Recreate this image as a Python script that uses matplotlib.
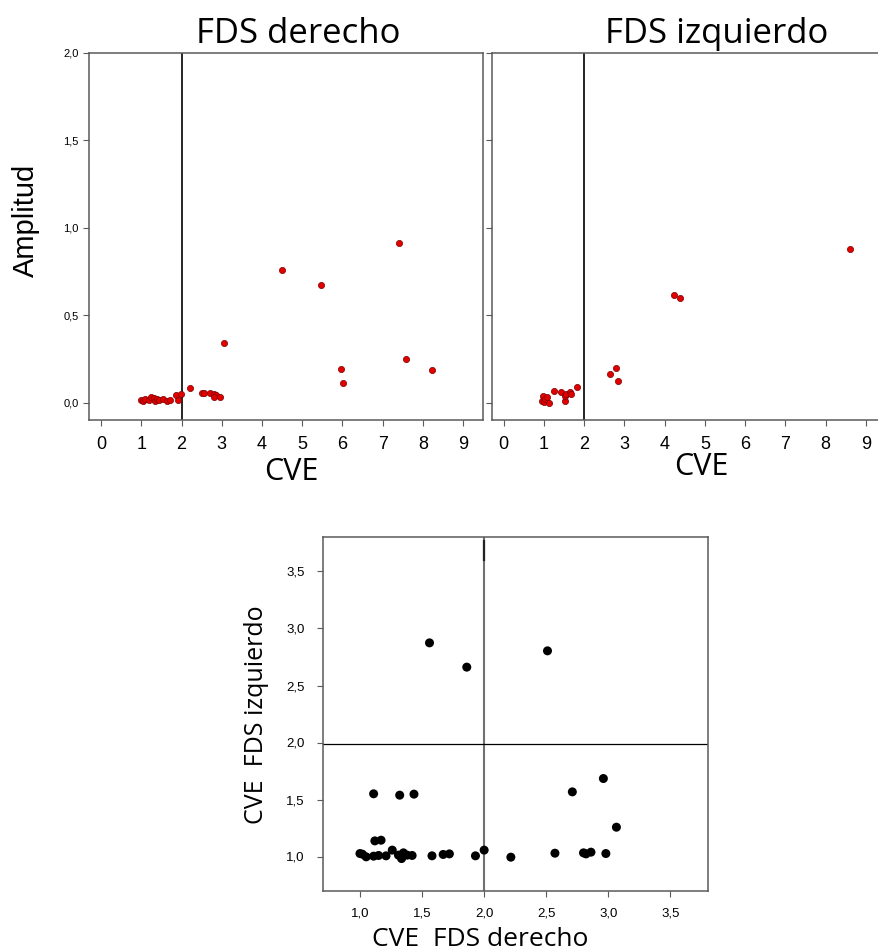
import matplotlib
matplotlib.use('Agg')
import matplotlib.pyplot as plt
import numpy as np

# CVE vs amplitud, FDS derecho
der_cve = [0.98, 1.03, 1.10, 1.18, 1.25, 1.31, 1.33, 1.39, 1.43, 1.55, 1.65, 1.72,
           1.85, 1.92, 1.99, 2.20, 2.50, 2.56, 2.70, 2.81, 2.86, 2.81, 2.96, 3.06,
           4.49, 5.47, 5.96, 6.02, 7.41, 7.59, 8.22]
der_amp = [0.013, 0.006, 0.021, 0.013, 0.030, 0.025, 0.011, 0.023, 0.013, 0.021, 0.010, 0.017,
           0.042, 0.013, 0.048, 0.082, 0.055, 0.057, 0.055, 0.048, 0.044, 0.030, 0.032, 0.341,
           0.761, 0.673, 0.193, 0.112, 0.915, 0.250, 0.185]

# CVE vs amplitud, FDS izquierdo
izq_cve = [0.96, 0.97, 0.99, 1.02, 1.08, 1.12, 1.24, 1.41, 1.51, 1.53, 1.55, 1.65,
           1.67, 1.81, 2.65, 2.78, 2.85, 4.23, 4.38, 8.60]
izq_amp = [0.006, 0.040, 0.002, 0.021, 0.031, 0.000, 0.067, 0.063, 0.010, 0.038, 0.051, 0.061,
           0.046, 0.088, 0.166, 0.200, 0.124, 0.618, 0.597, 0.877]

# CVE derecho vs CVE izquierdo
cve_der = [1.00, 1.02, 1.05, 1.11, 1.15, 1.21, 1.26, 1.31, 1.335, 1.35, 1.38, 1.42,
           1.58, 1.67, 1.72, 1.93, 2.00, 2.215, 2.57, 2.80, 2.82, 2.86, 2.98,
           1.12, 1.17, 1.11, 1.32, 1.435, 2.71, 2.96, 3.065, 1.56, 1.86, 2.51]
cve_izq = [1.026, 1.02, 0.997, 1.003, 1.009, 1.006, 1.056, 1.012, 0.982, 1.032, 1.012, 1.009,
           1.006, 1.018, 1.023, 1.006, 1.056, 0.994, 1.029, 1.032, 1.023, 1.038, 1.026,
           1.137, 1.143, 1.55, 1.538, 1.547, 1.567, 1.684, 1.257, 2.874, 2.661, 2.804]

amp_ticks = [0.0, 0.5, 1.0, 1.5, 2.0]
amp_labels = ['0,0', '0,5', '1,0', '1,5', '2,0']
cve_ticks = list(range(10))
sq_ticks = [1.0, 1.5, 2.0, 2.5, 3.0, 3.5]
sq_labels = ['1,0', '1,5', '2,0', '2,5', '3,0', '3,5']

frame = '#5a5a5a'
label_font = 'Open Sans'
tick_font = 'Liberation Sans'

fig = plt.figure(figsize=(8.79, 9.52), dpi=100)
W, H = 879, 952

def px_axes(x0, y0, x1, y1):
    return fig.add_axes([x0 / W, 1 - y1 / H, (x1 - x0) / W, (y1 - y0) / H])

def style(ax, lw=1.1):
    for s in ax.spines.values():
        s.set_color(frame)
        s.set_linewidth(lw)
    ax.tick_params(colors=frame, length=4, width=0.8)

ax1 = px_axes(89, 53, 483.3, 420)
ax2 = px_axes(491.7, 53, 886, 420)

for ax, xs, ys in [(ax1, der_cve, der_amp), (ax2, izq_cve, izq_amp)]:
    ax.scatter(xs, ys, s=20, c='#e00000', edgecolors='#7a0000', linewidths=0.5, zorder=3)
    ax.axvline(2, color='black', lw=1.2, zorder=2)
    ax.set_xlim(-0.3, 9.5)
    ax.set_ylim(-0.1, 2.0)
    ax.set_xticks(cve_ticks)
    ax.set_yticks(amp_ticks)
    style(ax)
    ax.tick_params(axis='x', labelsize=13, pad=7.5, labelcolor='black')
    ax.tick_params(axis='y', labelsize=8, pad=3.5, labelcolor='black')
    for lab in ax.get_xticklabels() + ax.get_yticklabels():
        lab.set_fontfamily(tick_font)

ax1.set_yticklabels(amp_labels)
ax2.set_yticklabels([])

fig.text(298 / W, 1 - 43.3 / H, 'FDS derecho', fontsize=25, family=label_font,
         ha='center', va='baseline')
fig.text(717 / W, 1 - 43.3 / H, 'FDS izquierdo', fontsize=25, family=label_font,
         ha='center', va='baseline')
fig.text(291 / W, 1 - 480 / H, 'CVE', fontsize=22, family=label_font,
         ha='center', va='baseline')
fig.text(701 / W, 1 - 475 / H, 'CVE', fontsize=22, family=label_font,
         ha='center', va='baseline')
fig.text(34 / W, 1 - 220.5 / H, 'Amplitud', fontsize=21, family=tick_font,
         rotation=90, rotation_mode='anchor', ha='center', va='baseline')

# CVE derecho vs izquierdo
ax3 = px_axes(322.7, 537.3, 707.7, 890.7)
ax3.scatter(cve_der, cve_izq, s=42, c='black', edgecolors='none', zorder=3)
ax3.axvline(2.0, color='#707070', lw=1.5, zorder=2)
ax3.plot([2.0, 2.0], [3.6, 3.77], color='#222222', lw=1.6, zorder=2)
ax3.axhline(1.985, color='black', lw=0.9, zorder=2)
ax3.set_xlim(0.7, 3.8)
ax3.set_ylim(0.7, 3.8)
ax3.set_xticks(sq_ticks)
ax3.set_xticklabels(sq_labels)
ax3.set_yticks(sq_ticks)
ax3.set_yticklabels(sq_labels)
style(ax3)
ax3.tick_params(axis='x', labelsize=9.5, pad=8, labelcolor='black')
ax3.tick_params(axis='y', labelsize=9.5, pad=9, labelcolor='black')
for lab in ax3.get_xticklabels() + ax3.get_yticklabels():
    lab.set_fontfamily(tick_font)

fig.text(480 / W, 1 - 946 / H, 'CVE  FDS derecho', fontsize=19, family=label_font,
         ha='center', va='baseline')
fig.text(263.3 / W, 1 - 715 / H, 'CVE  FDS izquierdo', fontsize=18, family=label_font,
         rotation=90, rotation_mode='anchor', ha='center', va='baseline')

fig.savefig('out.png', dpi=100)
